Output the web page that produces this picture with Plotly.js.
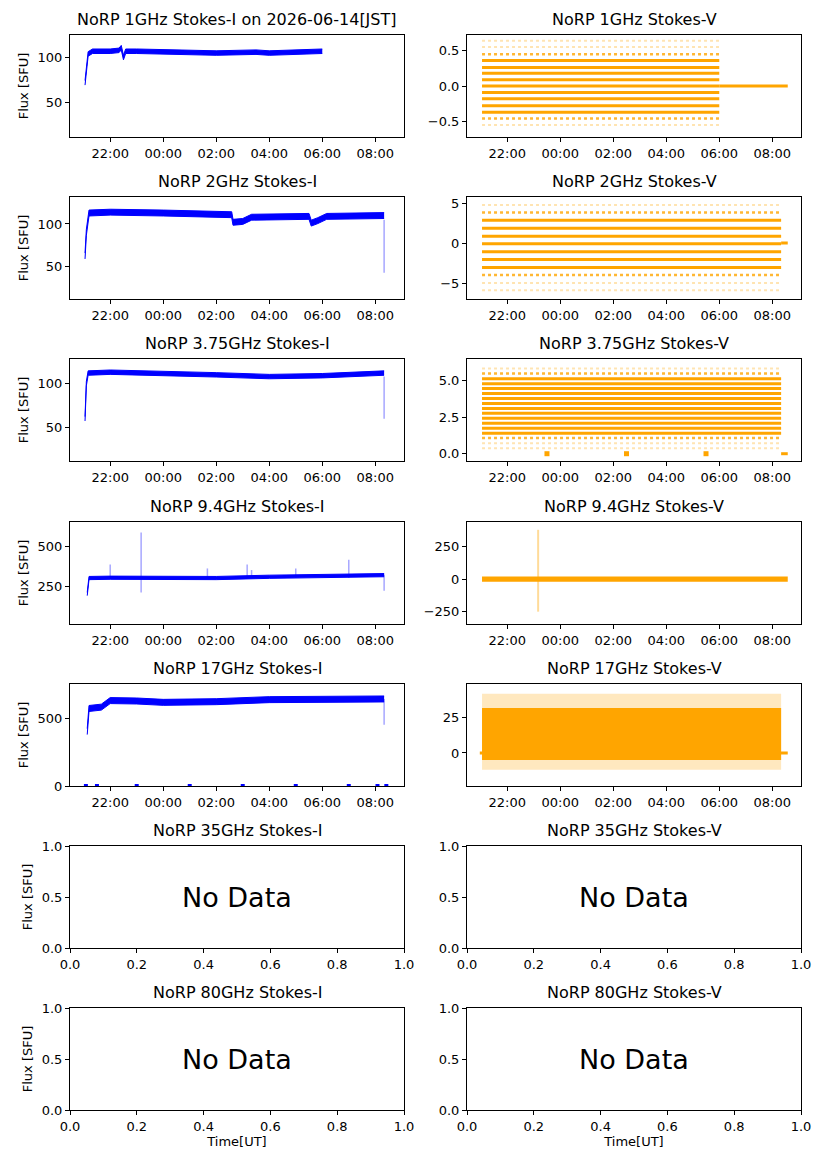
<!DOCTYPE html>
<html>
<head>
<meta charset="utf-8">
<script src="https://cdn.plot.ly/plotly-3.0.1.min.js"></script>
<style>body{margin:0;background:#fff}#chart{width:827px;height:1169px}</style>
</head>
<body>
<div id="chart"></div>
<script>
// ---- data ----
const BLUE = "#0000ff", ORANGE = "#ffa500";
const D0 = "2026-06-13 ", D1 = "2026-06-14 ";

// Stokes-I centre lines (time, flux) and half width of the noise band
const i1Time = [D0+"21:03",D0+"21:06",D0+"21:10",D0+"21:20",D0+"22:00",D0+"22:20",D0+"22:25",D0+"22:30",D0+"22:35",D0+"23:00",D1+"02:00",D1+"03:30",D1+"04:00",D1+"06:00"];
const i1Flux = [72,90,104,107,107,108,111,100,107,107,105,106,105,107];
const i1Half = 2.5;
const i2Time = [D0+"21:03",D0+"21:06",D0+"21:12",D0+"22:00",D1+"00:00",D1+"02:00",D1+"02:35",D1+"02:38",D1+"03:00",D1+"03:20",D1+"05:30",D1+"05:35",D1+"05:50",D1+"06:10",D1+"08:20"];
const i2Flux = [62,90,113,114,113,111,111,102,103,108,109,101,104,109,110];
const i2Half = 3.5;
const i3Time = [D0+"21:03",D0+"21:06",D0+"21:10",D0+"22:00",D1+"02:00",D1+"04:00",D1+"06:00",D1+"08:20"];
const i3Flux = [60,100,112,113,110,108,109,112];
const i3Half = 2.5;
const i9Time = [D0+"21:08",D0+"21:12",D0+"22:00",D1+"02:00",D1+"04:00",D1+"08:20"];
const i9Flux = [200,300,302,300,308,318];
const i9Half = 10;
const i17Time = [D0+"21:08",D0+"21:12",D0+"21:40",D0+"22:00",D0+"23:00",D1+"00:00",D1+"02:00",D1+"04:00",D1+"08:20"];
const i17Flux = [400,570,580,628,625,615,620,635,640];
const i17Half = 22;

// isolated outliers drawn as thin spikes: time, low, high
const s2Time = [D1+"08:20"];
const s2Lo = [42]; const s2Hi = [105];
const s3Time = [D1+"08:20"];
const s3Lo = [60]; const s3Hi = [108];
const s9Time = [D0+"22:00",D0+"23:10",D1+"01:40",D1+"03:10",D1+"03:20",D1+"05:00",D1+"07:00",D1+"08:20"];
const s9Lo = [300,210,300,300,300,300,300,220];
const s9Hi = [385,585,360,385,350,360,415,320];
const s17Time = [D1+"08:20"];
const s17Lo = [450]; const s17Hi = [640];
// 17GHz Stokes-I zero drop-outs
const z17Time = [D0+"21:05",D0+"21:30",D0+"23:00",D1+"01:00",D1+"03:00",D1+"05:00",D1+"07:00",D1+"08:05",D1+"08:25"];
const z17Flux = [0,0,0,0,0,0,0,0,0];

// Stokes-V quantised levels: strong, medium, faint
const v1Solid = [-0.37,-0.28,-0.18,-0.09,0,0.09,0.18,0.26,0.36];
const v1Mid = [-0.46,0.45];
const v1Faint = [-0.55,0.55,0.64];
const v2Solid = [-3.05,-2.07,-1.1,-0.1,0.85,1.83,2.85];
const v2Mid = [-4.0,3.8];
const v2Faint = [-5.9,-5.0,4.75];
const v3Solid = [1.41,1.75,2.09,2.43,2.77,3.11,3.45,3.79,4.13,4.47,4.81,5.15];
const v3Mid = [1.07,5.5];
const v3Faint = [0.37,0.72,5.85];
const v3ZeroTime = [D0+"23:30",D1+"02:30",D1+"05:30"];
const v9Band = [-20,20];
const v9Spike = [380,-250];
const v17Band = [-5,32];
const v17Fringe = [-12,42];

const vStart = D0+"21:03", vEnd1 = D1+"06:00", vEnd = D1+"08:20", vTail = D1+"08:35";
const xRange = [D0+"20:29", D1+"09:05"];
const timeTicks = [D0+"22:00",D1+"00:00",D1+"02:00",D1+"04:00",D1+"06:00",D1+"08:00"];

const freqs = ["1GHz","2GHz","3.75GHz","9.4GHz","17GHz","35GHz","80GHz"];

// ---- layout geometry (pixels of the 827x1169 page) ----
const W = 827, H = 1169;
const colX = [[70,404],[467,801]];
const rowY = [[35,137],[197,299],[359,461],[522,624],[684,786],[846,948],[1008,1110]];
const iRanges = [[12,125],[11,132],[12,128],[13,650],[0,750]];
const iDtick = [50,50,50,250,500];
const vRanges = [[-0.72,0.72],[-7,5.75],[-0.5,6.5],[-345,440],[-23.5,49]];
const vDtick = [0.5,5,2.5,250,25];
const vFormat = [".1f","d",".1f","d","d"];

const traces = [];
const layout = {
  width: W, height: H,
  margin: {l:0,r:0,t:0,b:0},
  paper_bgcolor: "#fff", plot_bgcolor: "#fff",
  showlegend: false,
  font: {family: "DejaVu Sans", size: 13, color: "#000"},
  annotations: [],
};

function axisBase() {
  return {showline:true, mirror:true, linecolor:"#000", linewidth:1, ticks:"outside",
          ticklen:4, tickcolor:"#000", showgrid:false, zeroline:false, fixedrange:true,
          tickfont:{size:13}};
}

let n = 0;
function addAxes(row, col, isTime, yr, title, dtick, fmt) {
  n++;
  const xa = "xaxis" + (n === 1 ? "" : n), ya = "yaxis" + (n === 1 ? "" : n);
  const [x0,x1] = colX[col], [y0,y1] = rowY[row];
  layout[xa] = Object.assign(axisBase(), {domain:[x0/W, x1/W], anchor:"y"+n});
  layout[ya] = Object.assign(axisBase(), {domain:[1-y1/H, 1-y0/H], anchor:"x"+n, range:yr,
    dtick:dtick, tickformat:fmt});
  if (isTime) {
    Object.assign(layout[xa], {type:"date", range:xRange, tickformat:"%H:%M", tickvals:timeTicks});
  } else {
    Object.assign(layout[xa], {range:[0,1], dtick:0.2, tickformat:".1f"});
  }
  if (col === 0) layout[ya].title = {text:"Flux [SFU]", font:{size:13}, standoff:6};
  if (row === 6) layout[xa].title = {text:"Time[UT]", font:{size:13}, standoff:4};
  layout.annotations.push({text:title, x:(x0+x1)/2/W, y:1-(y0-4)/H, xref:"paper", yref:"paper",
    xanchor:"center", yanchor:"bottom", showarrow:false, font:{size:16}});
  return {x:"x"+n, y:"y"+n};
}

function band(ax, time, flux, half, color) {
  traces.push({x:time, y:flux.map(v=>v-half), xaxis:ax.x, yaxis:ax.y, mode:"lines",
    line:{color:color, width:1}, hoverinfo:"skip"});
  traces.push({x:time, y:flux.map(v=>v+half), xaxis:ax.x, yaxis:ax.y, mode:"lines",
    line:{color:color, width:1}, fill:"tonexty", fillcolor:color, hoverinfo:"skip"});
}
function spikes(ax, time, lo, hi, color) {
  time.forEach((t, i) => traces.push({x:[t,t], y:[lo[i],hi[i]], xaxis:ax.x, yaxis:ax.y,
    mode:"lines", line:{color:color, width:1.5}, opacity:0.35, hoverinfo:"skip"}));
}
function dots(ax, time, flux, color, size) {
  traces.push({x:time, y:flux, xaxis:ax.x, yaxis:ax.y, mode:"markers",
    marker:{color:color, size:size, symbol:"square"}, hoverinfo:"skip"});
}
function levels(ax, vals, t0, t1, width, dash, opacity) {
  vals.forEach(v => traces.push({x:[t0,t1], y:[v,v], xaxis:ax.x, yaxis:ax.y, mode:"lines",
    line:{color:ORANGE, width:width, dash:dash}, opacity:opacity, hoverinfo:"skip"}));
}
function vBand(ax, lim, t0, t1, fill) {
  traces.push({x:[t0,t1], y:[lim[0],lim[0]], xaxis:ax.x, yaxis:ax.y, mode:"lines",
    line:{color:fill, width:0}, hoverinfo:"skip"});
  traces.push({x:[t0,t1], y:[lim[1],lim[1]], xaxis:ax.x, yaxis:ax.y, mode:"lines",
    line:{color:fill, width:0}, fill:"tonexty", fillcolor:fill, hoverinfo:"skip"});
}

// ---- Stokes-I column and empty panels ----
const iSeries = [[i1Time,i1Flux,i1Half,null],[i2Time,i2Flux,i2Half,[s2Time,s2Lo,s2Hi]],
  [i3Time,i3Flux,i3Half,[s3Time,s3Lo,s3Hi]],[i9Time,i9Flux,i9Half,[s9Time,s9Lo,s9Hi]],
  [i17Time,i17Flux,i17Half,[s17Time,s17Lo,s17Hi]]];
const vAxes = [];
freqs.forEach((f, r) => {
  const hasData = r < 5;
  const title = "NoRP " + f + " Stokes-I" + (r === 0 ? " on 2026-06-14[JST]" : "");
  const ax = addAxes(r, 0, hasData, hasData ? iRanges[r] : [0,1], title,
    hasData ? iDtick[r] : 0.5, hasData ? "d" : ".1f");
  if (hasData) {
    const s = iSeries[r];
    if (s[3]) spikes(ax, s[3][0], s[3][1], s[3][2], BLUE);
    band(ax, s[0], s[1], s[2], BLUE);
  } else {
    layout.annotations.push({text:"No Data", x:0.5, y:0.5, xref:ax.x, yref:ax.y,
      showarrow:false, font:{size:27}});
  }
  const axv = addAxes(r, 1, hasData, hasData ? vRanges[r] : [0,1], "NoRP " + f + " Stokes-V",
    hasData ? vDtick[r] : 0.5, hasData ? vFormat[r] : ".1f");
  vAxes.push(axv);
  if (!hasData) layout.annotations.push({text:"No Data", x:0.5, y:0.5, xref:axv.x, yref:axv.y,
      showarrow:false, font:{size:27}});
});
dots({x:"x9", y:"y9"}, z17Time, z17Flux, BLUE, 4);

// ---- Stokes-V column ----
levels(vAxes[0], v1Solid, vStart, vEnd1, 3, "solid", 1);
levels(vAxes[0], v1Mid, vStart, vEnd1, 2.5, "dot", 0.8);
levels(vAxes[0], v1Faint, vStart, vEnd1, 2, "dot", 0.3);
levels(vAxes[0], [0], vEnd1, vTail, 3, "solid", 1);

levels(vAxes[1], v2Solid, vStart, vEnd, 3, "solid", 1);
levels(vAxes[1], v2Mid, vStart, vEnd, 2.5, "dot", 0.8);
levels(vAxes[1], v2Faint, vStart, vEnd, 2, "dot", 0.3);
levels(vAxes[1], [0], vEnd, vTail, 3, "solid", 1);

levels(vAxes[2], v3Solid, vStart, vEnd, 3, "solid", 1);
levels(vAxes[2], v3Mid, vStart, vEnd, 2.5, "dot", 0.8);
levels(vAxes[2], v3Faint, vStart, vEnd, 2, "dot", 0.3);
levels(vAxes[2], [0], vEnd, vTail, 3, "solid", 1);
dots(vAxes[2], v3ZeroTime, [0,0,0], ORANGE, 5);

traces.push({x:[D0+"23:10",D0+"23:10"], y:v9Spike, xaxis:vAxes[3].x, yaxis:vAxes[3].y, mode:"lines",
  line:{color:ORANGE, width:2}, opacity:0.4, hoverinfo:"skip"});
vBand(vAxes[3], v9Band, vStart, vTail, ORANGE);

vBand(vAxes[4], v17Fringe, vStart, vEnd, "rgba(255,165,0,0.25)");
vBand(vAxes[4], v17Band, vStart, vEnd, ORANGE);
levels(vAxes[4], [0], D0+"20:58", vTail, 3, "solid", 1);

Plotly.newPlot("chart", traces, layout, {staticPlot:true});
</script>
</body>
</html>
